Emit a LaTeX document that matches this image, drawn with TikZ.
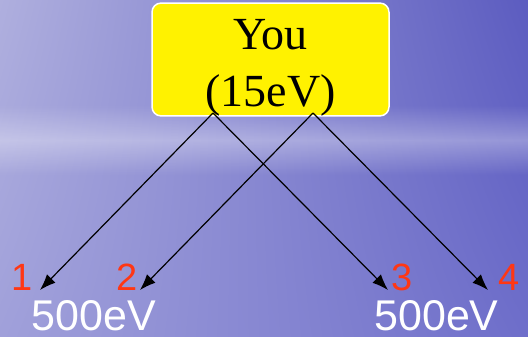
\documentclass[tikz,border=0pt]{standalone}
\usepackage{fontspec}
\setmainfont{Liberation Serif}
\setsansfont{Liberation Sans}
\usetikzlibrary{arrows.meta}
\usetikzlibrary{fadings,shadings}
\definecolor{skyUL}{RGB}{175,175,222}
\definecolor{skyUR}{RGB}{92,92,192}
\definecolor{skyLL}{RGB}{160,160,218}
\definecolor{skyLR}{RGB}{110,110,202}
\definecolor{numred}{RGB}{255,55,20}
\tikzfading[name=bandfade, top color=transparent!100, bottom color=transparent!100, middle color=transparent!0]

\begin{document}
\begin{tikzpicture} [x=1pt, y=-1pt,
  youbox/.style={draw=white, line width=1.5pt, fill=yellow, rounded corners=9pt,
    minimum width=237pt, minimum height=107pt, inner sep=0pt, align=center,
    text height=103pt, font=\fontsize{46}{57}\selectfont},
  numlbl/.style={text=numred, inner sep=0pt, anchor=base, font=\sffamily\fontsize{38}{40}\selectfont},
  evlbl/.style={text=white, inner sep=0pt, anchor=base, font=\sffamily\fontsize{43}{45}\selectfont},
  split/.style={-{Latex[length=16pt, width=12pt]}, line width=1.2pt, black}]
% sky
\shade[upper left=skyUL, upper right=skyUR, lower left=skyLL, lower right=skyLR] (0,0) rectangle (528,337);
\fill[white, opacity=0.32, path fading=bandfade] (0,105) rectangle (528,175);
\useasboundingbox (0,0) rectangle (528,337);
\node[youbox] (you) at (270.5,59.5) {You\\(15eV)};
\coordinate (outA) at (213,113);
\coordinate (outB) at (313,113);
\node[numlbl] (n1) at (22,290) {1};
\node[numlbl] (n2) at (127.5,290) {2};
\node[numlbl] (n3) at (402,290) {3};
\node[numlbl] (n4) at (509.5,290) {4};
\coordinate (tip1) at (40,290);
\coordinate (tip2) at (140,290);
\coordinate (tip3) at (388,290);
\coordinate (tip4) at (488,290);
\node[evlbl] (evL) at (94,330) {500eV};
\node[evlbl] (evR) at (436.5,330) {500eV};
\foreach \s/\t in {outA/tip1, outB/tip2, outA/tip3, outB/tip4}
 \draw[split] (\s) -- (\t);
\end{tikzpicture}
\end{document}
